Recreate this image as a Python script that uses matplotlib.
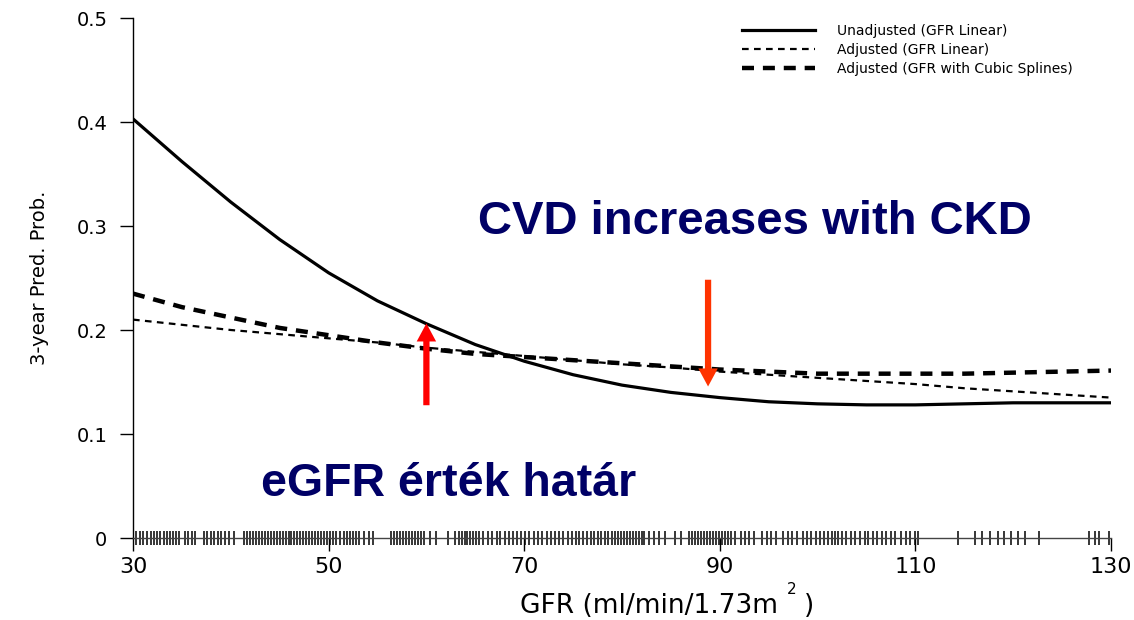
import matplotlib
matplotlib.use("Agg")
import matplotlib.pyplot as plt

plt.rcParams['font.family'] = ['DejaVu Sans']

gfr = [30, 35, 40, 45, 50, 55, 60, 65, 70, 75, 80, 85, 90, 95, 100, 105, 110, 115, 120, 125, 130]
unadjusted = [0.403, 0.362, 0.323, 0.287, 0.255, 0.228, 0.206, 0.186, 0.170, 0.157, 0.147, 0.140, 0.135, 0.131, 0.129, 0.128, 0.128, 0.129, 0.130, 0.130, 0.130]
adj_linear = [0.210, 0.205, 0.200, 0.196, 0.192, 0.188, 0.183, 0.179, 0.175, 0.171, 0.167, 0.164, 0.160, 0.157, 0.154, 0.151, 0.148, 0.144, 0.141, 0.138, 0.135]
adj_spline = [0.235, 0.222, 0.212, 0.202, 0.195, 0.188, 0.182, 0.177, 0.174, 0.171, 0.168, 0.165, 0.162, 0.160, 0.158, 0.158, 0.158, 0.158, 0.159, 0.160, 0.161]

rug = [30.3, 30.7, 31.0, 31.4, 31.8, 32.1, 32.5, 32.8, 33.2, 33.5, 33.8, 34.1, 34.4, 34.7, 35.3, 35.6, 36.0, 36.3,
       37.3, 37.6, 38.0, 38.3, 38.7, 39.0, 39.4, 39.8, 40.3, 41.4, 41.7, 42.0, 42.3, 42.6, 42.9, 43.2, 43.5,
       43.8, 44.1, 44.4, 44.7, 45.0, 45.3, 45.6, 45.9, 46.2, 46.5, 46.8, 47.1, 47.4, 47.7, 48.0, 48.3, 48.6,
       48.9, 49.2, 49.5, 49.8, 50.1, 50.4, 50.8, 51.2, 51.6, 51.9, 52.2, 52.5, 52.8, 53.1, 53.6, 54.1, 54.5,
       56.4, 56.7, 57.0, 57.3, 57.6, 57.9, 58.2, 58.5, 58.8, 59.1, 59.4, 59.8, 60.4, 61.0, 62.2, 62.9, 63.3,
       63.6, 63.9, 64.2, 64.5, 64.8, 65.1, 65.4, 65.8, 66.3, 66.7, 67.2, 67.5, 68.0, 68.4, 68.9, 69.3, 69.7,
       70.1, 70.5, 71.0, 71.4, 71.8, 72.3, 72.7, 73.2, 73.6, 74.0, 74.5, 74.9, 75.3, 75.6, 76.0, 76.4, 76.8,
       77.1, 77.5, 77.9, 78.3, 78.6, 79.0, 79.3, 79.6, 79.9, 80.2, 80.5, 80.8, 81.1, 81.4, 81.7, 82.0, 82.3,
       82.8, 83.3, 83.8, 84.4, 85.4, 86.0, 86.8, 87.2, 87.5, 87.8, 88.1, 88.4, 88.7, 89.0, 89.3, 89.6, 89.9,
       90.2, 90.5, 90.8, 91.1, 91.6, 92.2, 92.6, 93.0, 93.5, 94.3, 94.8, 95.2, 95.7, 96.5, 97.0, 97.4, 97.9,
       98.5, 98.9, 99.3, 99.8, 100.2, 100.7, 101.1, 101.5, 101.8, 102.1, 102.5, 102.9, 103.4, 103.8, 104.3,
       104.8, 105.2, 105.7, 106.1, 106.6, 107.0, 107.5, 107.9, 108.5, 109.0, 109.4, 110.0, 110.3,
       114.4, 116.1, 116.8, 117.6, 118.4, 119.1, 119.8, 120.5, 121.2, 122.6,
       127.8, 128.4, 128.8, 129.8]

ann_top = "CVD increases with CKD"
ann_bottom = "eGFR érték határ"

W, H = 1134, 620
fig = plt.figure(figsize=(W / 100, H / 100), dpi=100)
ax = fig.add_axes([133 / W, 1 - 538 / H, (1111 - 133) / W, (538 - 18) / H])

ax.plot(gfr, unadjusted, color='black', lw=2.3, ls='-', label='Unadjusted (GFR Linear)')
ax.plot(gfr, adj_linear, color='black', lw=1.6, ls=(0, (3.0, 2.4)), label='Adjusted (GFR Linear)')
ax.plot(gfr, adj_spline, color='black', lw=3.2, ls=(0, (2.7, 2.0)), label='Adjusted (GFR with Cubic Splines)')

ax.plot(rug, [0] * len(rug), ls='none', marker='|', ms=10, mew=1.1, color='black', clip_on=False)

ax.set_xlim(30, 130)
ax.set_ylim(0, 0.5)
ax.set_xticks([30, 50, 70, 90, 110, 130])
ax.set_yticks([0, 0.1, 0.2, 0.3, 0.4, 0.5])
ax.set_yticklabels(['0', '0.1', '0.2', '0.3', '0.4', '0.5'])
ax.spines['top'].set_visible(False)
ax.spines['right'].set_visible(False)
ax.spines['left'].set_linewidth(1.0)
ax.spines['bottom'].set_linewidth(1.0)
ax.spines['bottom'].set_color('#444444')
ax.tick_params(axis='y', labelsize=14, length=9.5, width=1.0, direction='out', pad=9)
ax.tick_params(axis='x', labelsize=16, length=9, width=1.0, direction='out', pad=5)
ax.set_ylabel('3-year Pred. Prob.', fontsize=14, labelpad=20)

# x-axis title with a raised superscript, as in the original
fig.text(649 / W, 1 - 613 / H, 'GFR (ml/min/1.73m', fontsize=19, ha='center', va='baseline')
fig.text(787 / W, 1 - 594 / H, '2', fontsize=11, ha='left', va='baseline')
fig.text(804 / W, 1 - 613 / H, ')', fontsize=19, ha='left', va='baseline')

ax.legend(loc='upper left', bbox_to_anchor=(742 / W, 1 - 24 / H), bbox_transform=fig.transFigure,
          frameon=False, fontsize=10, borderpad=0, borderaxespad=0,
          handlelength=5.25, handletextpad=1.6, labelspacing=0.36)

ax.text(93.6, 0.292, ann_top, fontsize=34, fontweight='bold', color='#000066',
        ha='center', va='baseline', family='Liberation Sans')
ax.text(62.3, 0.040, ann_bottom, fontsize=33.5, fontweight='bold', color='#000066',
        ha='center', va='baseline', family='Liberation Sans')

ax.annotate('', xy=(60, 0.209), xytext=(60, 0.125),
            arrowprops=dict(arrowstyle='simple,head_width=1.4,head_length=1.3,tail_width=0.45',
                            color='#ff0000', lw=0))
ax.annotate('', xy=(88.8, 0.143), xytext=(88.8, 0.251),
            arrowprops=dict(arrowstyle='simple,head_width=1.4,head_length=1.3,tail_width=0.45',
                            color='#ff3300', lw=0))

fig.savefig('out.png', dpi=100)
